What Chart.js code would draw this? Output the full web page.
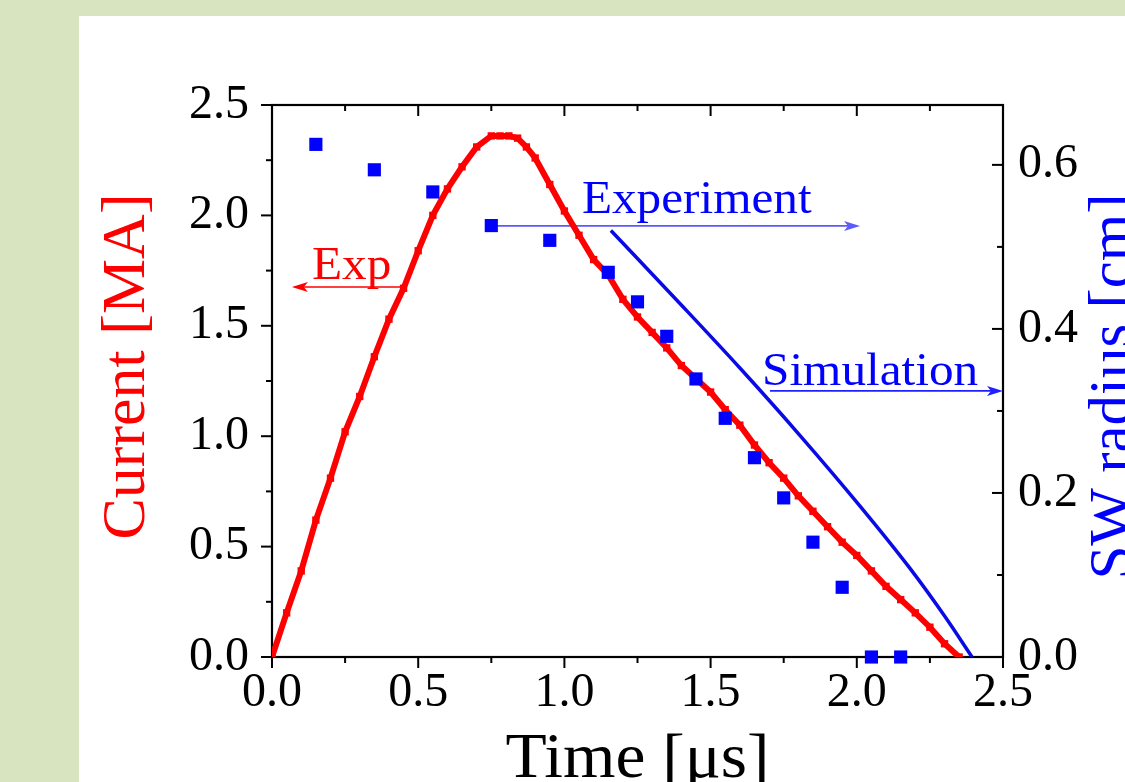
<!DOCTYPE html>
<html>
<head>
<meta charset="utf-8">
<script src="https://cdn.jsdelivr.net/npm/chart.js@4.4.1/dist/chart.umd.min.js"></script>
<style>
  html, body { margin: 0; padding: 0; background: #d8e4bf; }
  #wrap { width: 1125px; height: 782px; overflow: hidden; }
  canvas { display: block; }
</style>
</head>
<body>
<div id="wrap"><canvas id="c" width="1125" height="782"></canvas></div>
<script>
// ---- Data ----
const timeExp = [0, 0.05, 0.10, 0.15, 0.20, 0.25, 0.30, 0.35, 0.40, 0.45, 0.50, 0.55, 0.60, 0.65, 0.70, 0.75, 0.78, 0.81, 0.84, 0.87, 0.90, 0.95, 1.00, 1.05, 1.10, 1.15, 1.20, 1.25, 1.30, 1.35, 1.40, 1.45, 1.50, 1.55, 1.60, 1.65, 1.70, 1.75, 1.80, 1.85, 1.90, 1.95, 2.00, 2.05, 2.10, 2.15, 2.20, 2.25, 2.30, 2.35];
const currentExp = [0, 0.20, 0.39, 0.62, 0.81, 1.02, 1.18, 1.36, 1.53, 1.67, 1.84, 2.00, 2.12, 2.22, 2.31, 2.36, 2.36, 2.36, 2.35, 2.31, 2.26, 2.14, 2.02, 1.91, 1.80, 1.73, 1.62, 1.54, 1.47, 1.40, 1.32, 1.26, 1.20, 1.12, 1.05, 0.96, 0.88, 0.81, 0.73, 0.66, 0.59, 0.52, 0.46, 0.39, 0.32, 0.26, 0.20, 0.135, 0.06, 0.0];

const timeSW = [0.15, 0.35, 0.55, 0.75, 0.95, 1.15, 1.25, 1.35, 1.45, 1.55, 1.65, 1.75, 1.85, 1.95, 2.05, 2.15];
const radiusSW = [0.625, 0.594, 0.567, 0.526, 0.508, 0.469, 0.433, 0.391, 0.339, 0.291, 0.243, 0.194, 0.140, 0.085, 0, 0];

const timeSim = [1.159, 1.395, 1.601, 1.806, 2.011, 2.182, 2.302, 2.394];
const radiusSim = [0.520, 0.431, 0.352, 0.270, 0.184, 0.108, 0.049, 0.0];

const xTicks = [0, 0.5, 1.0, 1.5, 2.0, 2.5];
const yTicksLeft = [0, 0.5, 1.0, 1.5, 2.0, 2.5];
const yTicksRight = [0, 0.2, 0.4, 0.6];
const xMinorTicks = [0.25, 0.75, 1.25, 1.75, 2.25];
const yLeftMinorTicks = [0.25, 0.75, 1.25, 1.75, 2.25];
const yRightMinorTicks = [0.1, 0.3, 0.5];

const xTitle = 'Time [\u03bcs]';
const yLeftTitle = 'Current [MA]';
const yRightTitle = 'SW radius [cm]';

// annotation labels (text, anchor in data units)
const annotations = [
  { text: 'Exp', axis: 'y', x: 0.137, y: 1.712, color: '#ff0000',
    arrow: { x0: 0.445, x1: 0.068, y: 1.676, color: '#ff0000' } },
  { text: 'Experiment', axis: 'y2', x: 1.06, y: 0.5415, color: '#0000ff',
    arrow: { x0: 0.75, x1: 2.011, y: 0.5256, color: '#5a5aff' } },
  { text: 'Simulation', axis: 'y2', x: 1.676, y: 0.3317, color: '#0000ff',
    arrow: { x0: 1.703, x1: 2.5, y: 0.3244, color: '#2020ff' } }
];

const SERIF = '"Liberation Serif", "Times New Roman", serif';
const STRETCH = 1.07;

const pts = (xs, ys) => xs.map((x, i) => ({ x: x, y: ys[i] }));

function stretchedText(ctx, text, x, y, align) {
  ctx.save();
  ctx.translate(x, y);
  ctx.scale(STRETCH, 1);
  ctx.textAlign = align;
  ctx.fillText(text, 0, 0);
  ctx.restore();
}

const decor = {
  id: 'decor',
  beforeDraw(chart) {
    const ctx = chart.ctx;
    ctx.save();
    ctx.fillStyle = '#d8e4bf';
    ctx.fillRect(0, 0, chart.width, chart.height);
    ctx.fillStyle = '#ffffff';
    ctx.fillRect(79, 16, chart.width - 79, chart.height - 16);
    ctx.restore();
  },
  beforeDatasetsDraw(chart) {
    const ctx = chart.ctx;
    const a = chart.chartArea;
    const xs = chart.scales.x, yl = chart.scales.y, yr = chart.scales.y2;
    ctx.save();
    // frame
    ctx.strokeStyle = '#000';
    ctx.lineWidth = 2.2;
    ctx.strokeRect(a.left, a.top, a.right - a.left, a.bottom - a.top);
    ctx.lineWidth = 2;
    const tick = (x0, y0, x1, y1) => { ctx.beginPath(); ctx.moveTo(x0, y0); ctx.lineTo(x1, y1); ctx.stroke(); };
    // x ticks: bottom outward, top inward
    xTicks.forEach(v => { const p = xs.getPixelForValue(v); tick(p, a.bottom, p, a.bottom + 11); tick(p, a.top, p, a.top + 11); });
    xMinorTicks.forEach(v => { const p = xs.getPixelForValue(v); tick(p, a.bottom, p, a.bottom + 6); tick(p, a.top, p, a.top + 6); });
    // left ticks outward
    yTicksLeft.forEach(v => { const p = yl.getPixelForValue(v); tick(a.left - 11, p, a.left, p); });
    yLeftMinorTicks.forEach(v => { const p = yl.getPixelForValue(v); tick(a.left - 6, p, a.left, p); });
    // right ticks inward
    yTicksRight.forEach(v => { const p = yr.getPixelForValue(v); tick(a.right - 11, p, a.right, p); });
    yRightMinorTicks.forEach(v => { const p = yr.getPixelForValue(v); tick(a.right - 6, p, a.right, p); });

    // annotations
    annotations.forEach(an => {
      const ys = chart.scales[an.axis];
      ctx.font = '46px ' + SERIF;
      ctx.fillStyle = an.color;
      ctx.textBaseline = 'alphabetic';
      stretchedText(ctx, an.text, xs.getPixelForValue(an.x), ys.getPixelForValue(an.y), 'left');
      const ar = an.arrow;
      const x0 = xs.getPixelForValue(ar.x0), x1 = xs.getPixelForValue(ar.x1), y = ys.getPixelForValue(ar.y);
      const dir = Math.sign(x1 - x0);
      ctx.strokeStyle = ar.color;
      ctx.fillStyle = ar.color;
      ctx.lineWidth = 1.6;
      ctx.beginPath(); ctx.moveTo(x0, y); ctx.lineTo(x1 - dir * 10, y); ctx.stroke();
      ctx.beginPath();
      ctx.moveTo(x1, y);
      ctx.lineTo(x1 - dir * 16, y - 5);
      ctx.lineTo(x1 - dir * 12, y);
      ctx.lineTo(x1 - dir * 16, y + 5);
      ctx.closePath();
      ctx.fill();
    });
    ctx.restore();
  },
  afterDraw(chart) {
    const ctx = chart.ctx;
    const a = chart.chartArea;
    ctx.save();
    ctx.textBaseline = 'alphabetic';
    // x title
    ctx.font = '63px ' + SERIF;
    ctx.fillStyle = '#000';
    stretchedText(ctx, xTitle, (a.left + a.right) / 2, 777, 'center');
    ctx.textAlign = 'center';
    // left title
    ctx.save();
    ctx.translate(144, (193 + 540) / 2);
    ctx.rotate(-Math.PI / 2);
    ctx.fillStyle = '#ff0000';
    ctx.font = '62px ' + SERIF;
    ctx.fillText(yLeftTitle, 0, 0);
    ctx.restore();
    // right title (clipped by canvas edge as in the reference)
    ctx.save();
    ctx.translate(1131, (193 + 580) / 2);
    ctx.rotate(-Math.PI / 2);
    ctx.fillStyle = '#0000ff';
    ctx.font = '61px ' + SERIF;
    ctx.fillText(yRightTitle, 0, 0);
    ctx.restore();
    ctx.restore();
  }
};

const tickFont = { family: SERIF, size: 48 };

new Chart(document.getElementById('c'), {
  type: 'line',
  data: {
    datasets: [
      {
        label: 'SW radius (Experiment)',
        type: 'scatter',
        data: pts(timeSW, radiusSW),
        yAxisID: 'y2',
        pointStyle: 'rect',
        pointRadius: 9.3,
        pointHoverRadius: 9.3,
        backgroundColor: '#0000ff',
        borderColor: '#0000ff',
        borderWidth: 0,
        showLine: false,
        clip: false,
        order: 0
      },
      {
        label: 'Simulation',
        data: pts(timeSim, radiusSim),
        yAxisID: 'y2',
        borderColor: '#0a0ae6',
        borderWidth: 3.5,
        pointRadius: 0,
        cubicInterpolationMode: 'monotone',
        fill: false,
        order: 1
      },
      {
        label: 'Exp',
        data: pts(timeExp, currentExp),
        yAxisID: 'y',
        borderColor: '#ff0000',
        backgroundColor: '#ff0000',
        borderWidth: 6,
        pointStyle: 'rect',
        pointRadius: 5.2,
        pointBorderWidth: 0,
        tension: 0,
        fill: false,
        order: 2
      }
    ]
  },
  options: {
    responsive: false,
    animation: false,
    events: [],
    layout: { padding: { top: 105, left: 0, right: 0, bottom: 0 } },
    plugins: { legend: { display: false }, tooltip: { enabled: false } },
    scales: {
      x: {
        type: 'linear', position: 'bottom', min: 0, max: 2.5,
        afterBuildTicks: s => { s.ticks = xTicks.map(v => ({ value: v })); },
        afterFit: s => { s.height = 125; },
        grid: { display: false, drawTicks: false },
        border: { display: false },
        ticks: { font: tickFont, color: '#000', padding: 8, maxRotation: 0, autoSkip: false,
                 callback: v => Number(v).toFixed(1) }
      },
      y: {
        type: 'linear', position: 'left', min: 0, max: 2.5,
        afterBuildTicks: s => { s.ticks = yTicksLeft.map(v => ({ value: v })); },
        afterFit: s => { s.width = 272; },
        grid: { display: false, drawTicks: false },
        border: { display: false },
        ticks: { font: tickFont, color: '#000', padding: 23, autoSkip: false,
                 callback: v => Number(v).toFixed(1) }
      },
      y2: {
        type: 'linear', position: 'right', min: 0, max: 0.673,
        afterBuildTicks: s => { s.ticks = yTicksRight.map(v => ({ value: v })); },
        afterFit: s => { s.width = 122; },
        grid: { display: false, drawTicks: false },
        border: { display: false },
        ticks: { font: tickFont, color: '#000', padding: 15, autoSkip: false,
                 callback: v => Number(v).toFixed(1) }
      }
    }
  },
  plugins: [decor]
});
</script>
</body>
</html>
